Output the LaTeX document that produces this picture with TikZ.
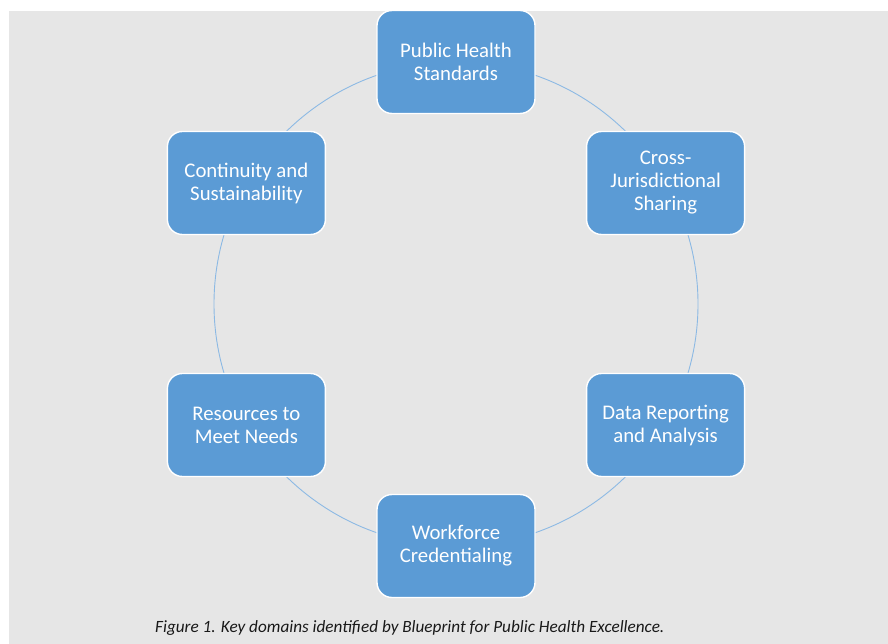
\documentclass[tikz,border=0pt]{standalone}
\usepackage{fontspec}
\setmainfont{Carlito}
\usetikzlibrary{calc}
\definecolor{panelgray}{RGB}{230,230,230}
\definecolor{domainblue}{RGB}{91,155,213}
\definecolor{ringblue}{RGB}{140,185,228}
\begin{document}
\begin{tikzpicture}[x=1pt,y=-1pt,
  domainbox/.style={draw=white, line width=1.4pt, fill=domainblue, rounded corners=15pt,
    minimum width=158pt, minimum height=103pt, align=center, text=white,
    font=\fontsize{20.8}{23}\selectfont, inner sep=2pt},
  ring/.style={draw=ringblue, line width=0.9pt}]
  % page and grey panel
  \useasboundingbox (0,0) rectangle (888,644);
  \fill[white] (0,0) rectangle (888,644);
  \fill[panelgray] (9,11) rectangle (888,644);

  % the cycle ring
  \coordinate (hub) at (456,304);
  \draw[ring] (hub) circle[radius=242];

  % domain boxes placed around the ring
  \node[domainbox] (standards)  at ($(hub)+(0,-242)$)      {Public Health\\Standards};
  \node[domainbox] (sharing)    at ($(hub)+(209.6,-121)$)  {Cross-\\Jurisdictional\\Sharing};
  \node[domainbox] (data)       at ($(hub)+(209.6,121)$)   {Data Reporting\\and Analysis};
  \node[domainbox] (workforce)  at ($(hub)+(0,242)$)       {Workforce\\Credentialing};
  \node[domainbox] (resources)  at ($(hub)+(-209.6,121)$)  {Resources to\\Meet Needs};
  \node[domainbox] (continuity) at ($(hub)+(-209.6,-121)$) {Continuity and\\Sustainability};

  % caption
  \node[anchor=base west, inner sep=0pt, font=\fontsize{17.2}{20}\selectfont\itshape, text=black!90]
    (caption) at (155,632) {Figure 1. Key domains identified by Blueprint for Public Health Excellence.};
\end{tikzpicture}
\end{document}
